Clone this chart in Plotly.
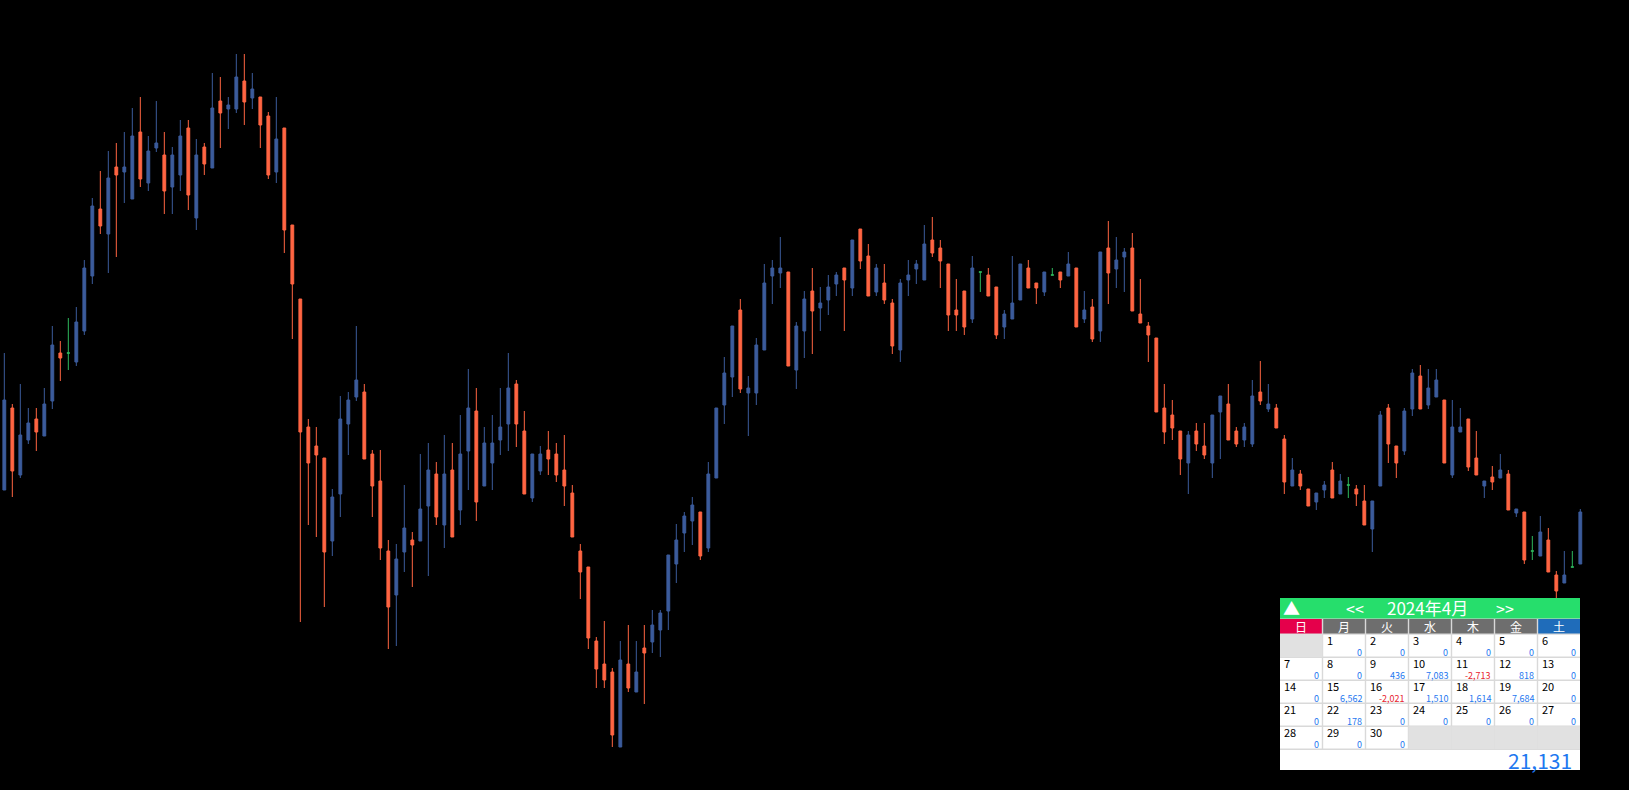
import plotly.graph_objects as go

# ---------------- candle data (arbitrary price units) ----------------
open_ = [510, 592, 525, 560, 581, 564, 599, 647, 647, 638,
         669, 724, 791, 766, 833, 828, 801, 868, 817, 852,
         845, 813, 825, 872, 782, 853, 832, 899, 891, 891,
         919, 902, 903, 884, 828, 872, 775, 701, 573, 554,
         542, 459, 506, 576, 603, 608, 546, 519, 449, 405,
         448, 460, 459, 494, 526, 475, 530, 490, 549, 589,
         514, 537, 560, 576, 616, 569, 502, 529, 550, 546,
         530, 507, 449, 433, 359, 336, 328, 253, 336, 308,
         352, 358, 370, 389, 436, 467, 479, 488, 452, 522,
         595, 623, 690, 607, 607, 650, 724, 727, 728, 630,
         669, 709, 692, 700, 716, 732, 712, 771, 744, 708,
         717, 697, 650, 720, 731, 720, 760, 752, 736, 690,
         709, 681, 728, 725, 713, 673, 681, 700, 732, 717,
         708, 725, 728, 724, 732, 681, 693, 669, 752, 731,
         743, 752, 686, 674, 662, 592, 585, 569, 537, 569,
         554, 537, 588, 596, 569, 560, 556, 608, 591, 592,
         561, 514, 526, 511, 498, 510, 530, 506, 515, 511,
         499, 471, 514, 592, 554, 549, 591, 624, 595, 603,
         600, 525, 568, 581, 542, 514, 523, 522, 526, 487,
         488, 449, 444, 460, 425, 417, 433, 436]
high = [647, 596, 616, 592, 592, 612, 674, 659, 682, 693,
        740, 802, 829, 849, 857, 868, 892, 903, 864, 899,
        868, 853, 880, 880, 861, 857, 927, 923, 903, 946,
        946, 927, 903, 888, 903, 872, 775, 701, 581, 573,
        542, 511, 604, 608, 674, 616, 550, 550, 460, 456,
        515, 468, 546, 557, 538, 565, 557, 585, 631, 612,
        573, 585, 612, 647, 620, 589, 546, 554, 569, 557,
        565, 515, 456, 433, 363, 379, 332, 359, 375, 359,
        375, 390, 390, 445, 476, 488, 503, 488, 538, 592,
        643, 674, 701, 624, 662, 736, 740, 763, 728, 678,
        709, 732, 713, 725, 728, 732, 760, 771, 756, 736,
        736, 701, 721, 740, 740, 775, 783, 760, 736, 721,
        709, 744, 728, 732, 713, 690, 744, 736, 740, 717,
        728, 732, 728, 748, 732, 709, 701, 748, 779, 763,
        752, 767, 721, 678, 662, 616, 600, 569, 569, 577,
        577, 585, 604, 616, 573, 577, 620, 639, 616, 596,
        565, 542, 530, 511, 507, 519, 538, 526, 523, 515,
        515, 499, 589, 596, 554, 592, 631, 635, 631, 631,
        600, 600, 592, 581, 569, 519, 534, 546, 530, 491,
        488, 464, 484, 472, 429, 449, 449, 491]
low = [510, 503, 522, 556, 549, 564, 591, 619, 630, 634,
       665, 716, 766, 727, 743, 797, 801, 813, 809, 848,
       786, 786, 809, 790, 770, 825, 832, 852, 871, 887,
       875, 891, 852, 821, 817, 747, 661, 378, 475, 463,
       393, 444, 483, 545, 599, 541, 483, 440, 351, 354,
       428, 413, 459, 424, 475, 452, 463, 475, 510, 479,
       514, 510, 545, 549, 553, 506, 498, 525, 525, 518,
       494, 463, 401, 351, 312, 312, 253, 253, 308, 308,
       296, 347, 343, 370, 417, 448, 455, 440, 448, 522,
       576, 603, 607, 564, 595, 650, 696, 712, 634, 611,
       642, 646, 669, 685, 704, 669, 704, 731, 704, 704,
       696, 646, 638, 704, 716, 720, 743, 712, 669, 669,
       665, 677, 708, 704, 661, 661, 681, 700, 712, 696,
       704, 725, 712, 724, 673, 677, 658, 658, 696, 712,
       708, 689, 677, 638, 588, 556, 560, 525, 506, 549,
       541, 522, 541, 560, 553, 553, 553, 595, 588, 572,
       506, 514, 510, 494, 490, 502, 502, 506, 502, 494,
       475, 448, 514, 537, 522, 545, 584, 591, 591, 603,
       537, 522, 568, 529, 525, 502, 510, 522, 490, 483,
       436, 440, 444, 428, 402, 417, 433, 436]
close = [600, 529, 565, 577, 568, 596, 655, 642, 647, 678,
         732, 794, 774, 822, 825, 833, 864, 821, 849, 857,
         809, 845, 864, 805, 845, 836, 892, 887, 895, 923,
         898, 911, 875, 825, 861, 770, 716, 568, 537, 545,
         448, 503, 581, 600, 620, 541, 514, 452, 393, 441,
         472, 455, 491, 530, 483, 526, 463, 546, 592, 498,
         557, 557, 573, 612, 576, 506, 546, 546, 541, 525,
         514, 463, 428, 362, 331, 320, 265, 340, 312, 328,
         347, 375, 387, 445, 460, 484, 495, 444, 526, 592,
         627, 674, 611, 612, 655, 717, 732, 732, 634, 674,
         701, 689, 697, 713, 725, 720, 760, 739, 704, 732,
         700, 654, 717, 725, 736, 756, 747, 739, 685, 685,
         673, 732, 728, 704, 665, 686, 697, 736, 712, 712,
         728, 725, 720, 736, 673, 690, 661, 748, 727, 740,
         748, 689, 677, 665, 588, 568, 572, 541, 565, 556,
         545, 585, 604, 560, 556, 573, 604, 599, 596, 572,
         518, 530, 514, 494, 507, 515, 502, 519, 515, 506,
         475, 499, 585, 556, 537, 589, 627, 591, 612, 620,
         537, 573, 573, 533, 525, 519, 518, 530, 490, 491,
         440, 449, 468, 428, 409, 425, 433, 488]

# ---------------- calendar widget data ----------------
cal_title = "2024年4月"
cal_weekdays = ["日", "月", "火", "水", "木", "金", "土"]
cal_first_weekday = 1          # 1 April 2024 is a Monday
cal_values = [0, 0, 0, 0, 0, 0, 0, 0, 436, 7083,
              -2713, 818, 0, 0, 6562, -2021, 1510, 1614, 7684, 0,
              0, 178, 0, 0, 0, 0, 0, 0, 0, 0]
cal_total = "21,131"

# ---------------- styling ----------------
W, H = 1629, 790
UP = "#3B5B9B"
DN = "#FF6542"
DOJI = "#2EB85C"
FONT = "Noto Sans CJK JP"

x = list(range(len(open_)))
main = [i for i in x if open_[i] != close[i]]
doji = [i for i in x if open_[i] == close[i]]

fig = go.Figure()
fig.add_trace(go.Candlestick(
    x=[x[i] for i in main], open=[open_[i] for i in main], high=[high[i] for i in main],
    low=[low[i] for i in main], close=[close[i] for i in main],
    increasing=dict(line=dict(color=UP, width=1), fillcolor=UP),
    decreasing=dict(line=dict(color=DN, width=1), fillcolor=DN),
    whiskerwidth=0, showlegend=False))
fig.add_trace(go.Candlestick(
    x=[x[i] for i in doji], open=[open_[i] for i in doji], high=[high[i] for i in doji],
    low=[low[i] for i in doji], close=[close[i] for i in doji],
    increasing=dict(line=dict(color=DOJI, width=1), fillcolor=DOJI),
    decreasing=dict(line=dict(color=DOJI, width=1), fillcolor=DOJI),
    whiskerwidth=0, showlegend=False))

# ---------------- calendar drawing helpers ----------------
def px(v):
    return v / W

def py(v):
    return 1 - v / H

shapes = []
annotations = []

def rect(x0, y0, x1, y1, color):
    shapes.append(dict(type="rect", xref="paper", yref="paper", x0=px(x0), x1=px(x1),
                       y0=py(y1), y1=py(y0), fillcolor=color, line=dict(width=0), layer="above"))

def text(xp, yp, s, size, color, xanchor="center", yanchor="middle"):
    annotations.append(dict(xref="paper", yref="paper", x=px(xp), y=py(yp), text=s, showarrow=False,
                            xanchor=xanchor, yanchor=yanchor, borderpad=0,
                            font=dict(family=FONT, size=size, color=color)))

CL, CR = 1280, 1580
col_edges = [1280, 1322.5, 1365.5, 1408.5, 1451.5, 1494.5, 1537.5, 1580]
HEAD_T, HEAD_B = 598, 618.5
DAY_T, DAY_B = 618.5, 634
row_edges = [634, 657.3, 680.3, 703.3, 726.3, 749.3]
BOTTOM = 770

# background (grid line colour)
rect(CL, HEAD_T, CR, BOTTOM, "#D9D9D9")
# green header
rect(CL, HEAD_T, CR, HEAD_B, "#26DE6C")
text(1291, 607.5, "▲", 17, "white")
text(1355, 607.5, "&lt;&lt;", 16, "white")
text(1427, 607.5, cal_title, 17, "white")
text(1505, 607.5, "&gt;&gt;", 16, "white")

# weekday row
wd_colors = ["#E5004B"] + ["#6E6E6E"] * 5 + ["#1F6CBA"]
for c in range(7):
    x0 = col_edges[c] + (0 if c == 0 else 0.7)
    x1 = col_edges[c + 1] - (0 if c == 6 else 0.7)
    rect(x0, DAY_T + 0.6, x1, DAY_B - 0.4, wd_colors[c])
    text((col_edges[c] + col_edges[c + 1]) / 2, 626.5, cal_weekdays[c], 12, "white")

# day cells
n_days = len(cal_values)
filled = set()
for d in range(1, n_days + 1):
    pos = cal_first_weekday + d - 1
    r, c = divmod(pos, 7)
    filled.add((r, c))
    x0 = col_edges[c] + (0 if c == 0 else 0.7)
    x1 = col_edges[c + 1] - (0 if c == 6 else 0.7)
    y0 = row_edges[r] + 0.7
    y1 = row_edges[r + 1] - 0.7
    rect(x0, y0, x1, y1, "white")
    text(col_edges[c] + 3, row_edges[r] + 6, str(d), 11, "black", xanchor="left")
    v = cal_values[d - 1]
    text(col_edges[c + 1] - 3, row_edges[r] + 18.3, f"{v:,}", 9,
         "#E8232E" if v < 0 else "#1E78F0", xanchor="right")

for r in range(len(row_edges) - 1):
    for c in range(7):
        if (r, c) not in filled:
            rect(col_edges[c], row_edges[r], col_edges[c + 1], row_edges[r + 1], "#E1E1E1")

# total row
rect(CL, row_edges[-1] + 0.7, CR, BOTTOM, "white")
text(1573, 760, cal_total, 21, "#1E78F0", xanchor="right")

fig.update_layout(
    width=W, height=H,
    margin=dict(l=0, r=0, t=0, b=0),
    paper_bgcolor="black", plot_bgcolor="black",
    boxgap=0.5,
    showlegend=False,
    xaxis=dict(visible=False, range=[-0.54, -0.54 + W / 8.0], rangeslider=dict(visible=False),
               showgrid=False, zeroline=False),
    yaxis=dict(visible=False, range=[210, 1000], showgrid=False, zeroline=False),
    shapes=shapes,
    annotations=annotations,
)

fig.write_html(
    "out.html",
    config={"displayModeBar": False},
    post_script="document.body.style.margin='0';document.body.style.background='black';"
                "document.body.style.overflow='hidden';",
)
